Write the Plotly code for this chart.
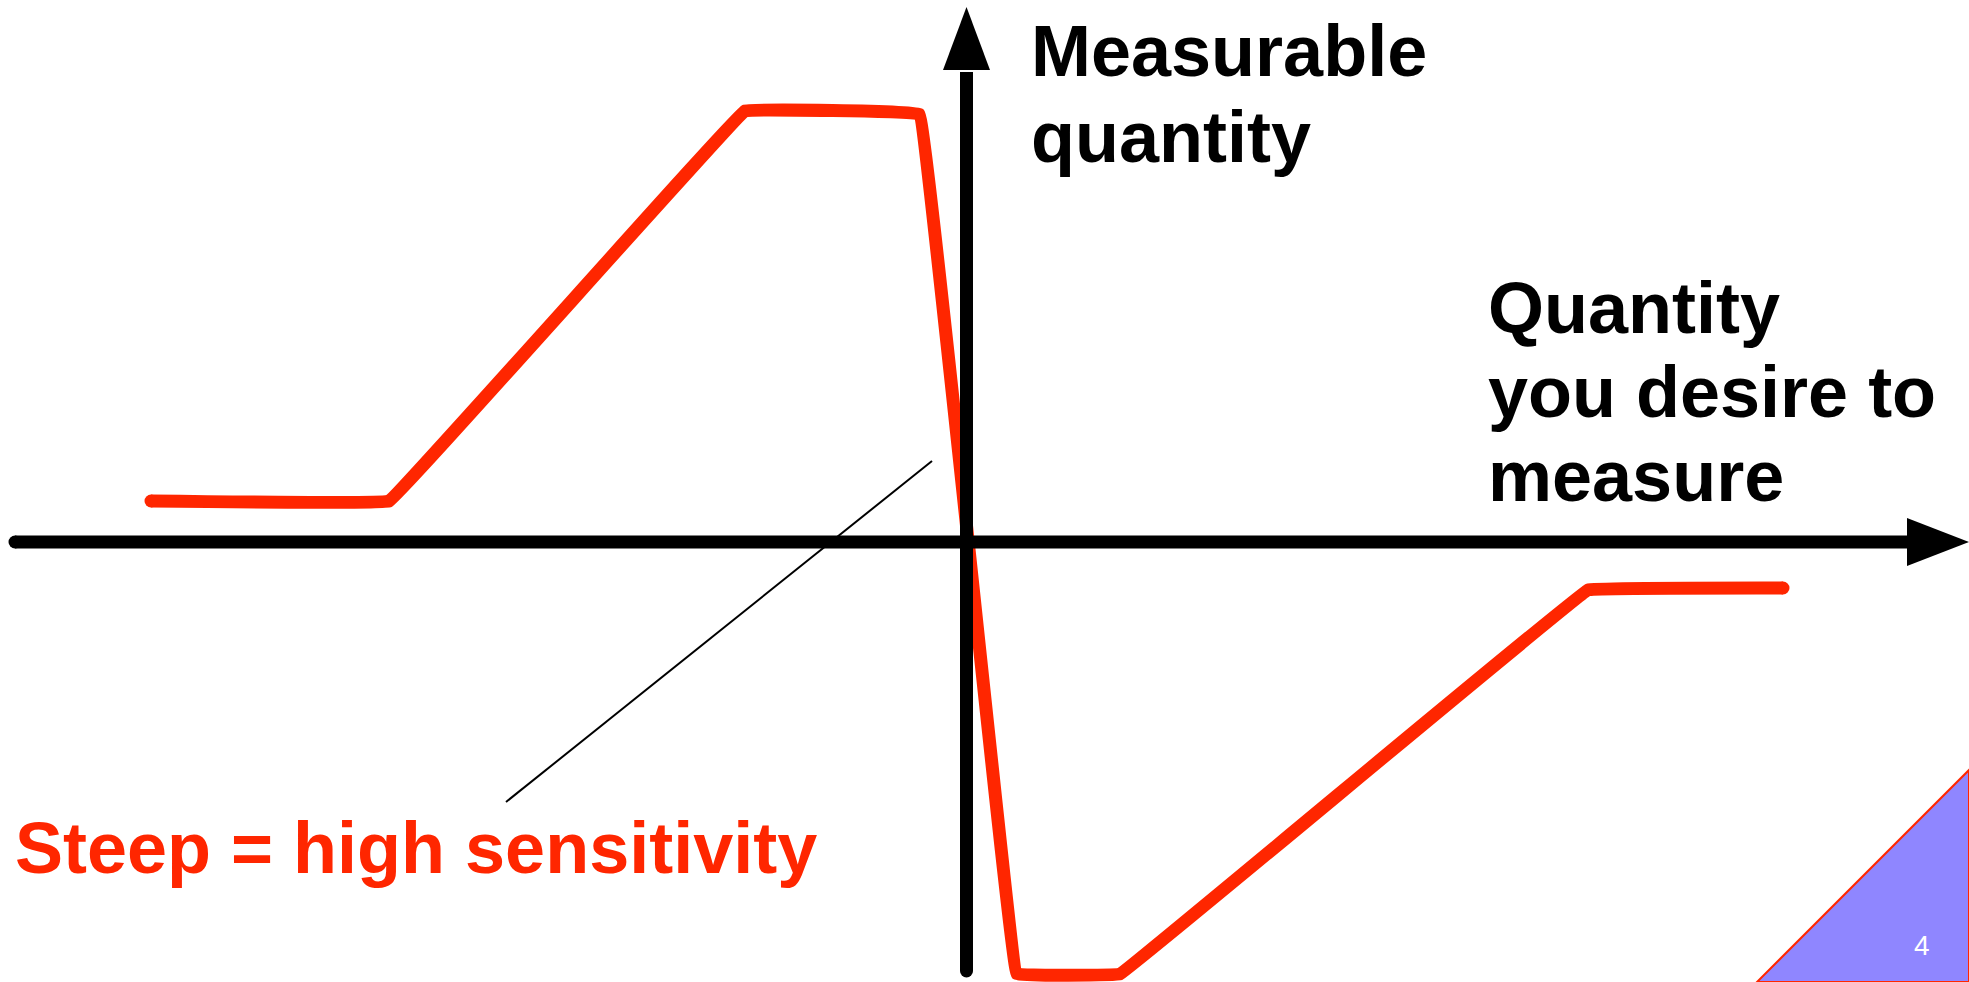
import plotly.graph_objects as go

# diagram units: origin where the two axes cross, y pointing up
curve_x = [-815, -577, -221, -47, 51, 154, 622, 817]
curve_y = [41, 41, 431, 428, -432, -432, -48, -46]

pointer_x = [-460, -34]
pointer_y = [-260, 81]

y_label_lines = ["Measurable", "quantity"]
y_label_base = [466, 380]
x_label_lines = ["Quantity", "you desire to", "measure"]
x_label_base = [209, 125, 41]
note_text = "Steep = high sensitivity"
page_number = "4"

RED = "#ff2600"
FONT = "Liberation Sans, Arial, Helvetica, sans-serif"

fig = go.Figure()

# thin pointer line from the note to the steep part
fig.add_trace(go.Scatter(
    x=pointer_x, y=pointer_y, mode="lines",
    line=dict(color="black", width=2), hoverinfo="skip"
))

# axes
fig.add_shape(type="line", x0=-951, y0=0, x1=944, y1=0,
              line=dict(color="black", width=13))
fig.add_shape(type="line", x0=0.5, y0=-429, x1=0.5, y1=470,
              line=dict(color="black", width=13))
fig.add_shape(type="path", path="M 941,24 L 1003,0 L 941,-24 Z",
              fillcolor="black", line=dict(width=0))
fig.add_shape(type="path", path="M -23,472 L 0.5,535 L 24,472 Z",
              fillcolor="black", line=dict(width=0))
fig.add_trace(go.Scatter(
    x=[-951, 0.5], y=[0, -429], mode="markers",
    marker=dict(color="black", size=13), hoverinfo="skip"
))

# corner triangle
fig.add_shape(type="path", path="M 1003,-228 L 1003,-440 L 791,-440 Z",
              fillcolor="#8f86ff", line=dict(color=RED, width=2))

# response curve
fig.add_trace(go.Scatter(
    x=curve_x, y=curve_y, mode="lines",
    line=dict(color=RED, width=13, shape="spline", smoothing=0.08),
    hoverinfo="skip"
))
fig.add_trace(go.Scatter(
    x=[curve_x[0], curve_x[-1]], y=[curve_y[0], curve_y[-1]], mode="markers",
    marker=dict(color=RED, size=13), hoverinfo="skip"
))

# labels
for txt, b in zip(y_label_lines, y_label_base):
    fig.add_annotation(x=64, y=b + 25, text="<b>" + txt + "</b>",
                       xanchor="left", yanchor="middle", showarrow=False,
                       borderpad=0, font=dict(family=FONT, size=72, color="black"))
for txt, b in zip(x_label_lines, x_label_base):
    fig.add_annotation(x=521, y=b + 25, text="<b>" + txt + "</b>",
                       xanchor="left", yanchor="middle", showarrow=False,
                       borderpad=0, font=dict(family=FONT, size=72, color="black"))
fig.add_annotation(x=-952, y=-331 + 25, text="<b>" + note_text + "</b>",
                   xanchor="left", yanchor="middle", showarrow=False,
                   borderpad=0, font=dict(family=FONT, size=72, color=RED))
fig.add_annotation(x=956, y=-403, text=page_number,
                   xanchor="center", yanchor="middle", showarrow=False,
                   font=dict(family=FONT, size=28, color="white"))

fig.update_xaxes(visible=False, range=[-966, 1003])
fig.update_yaxes(visible=False, range=[-440, 542])

fig.update_layout(
    width=1969, height=982,
    margin=dict(l=0, r=0, t=0, b=0),
    plot_bgcolor="white", paper_bgcolor="white",
    showlegend=False
)

# page body has a default 8px margin; drop it so the figure fills the window
fig.write_html("out.html", config={"displayModeBar": False},
               post_script="document.body.style.margin='0';")
